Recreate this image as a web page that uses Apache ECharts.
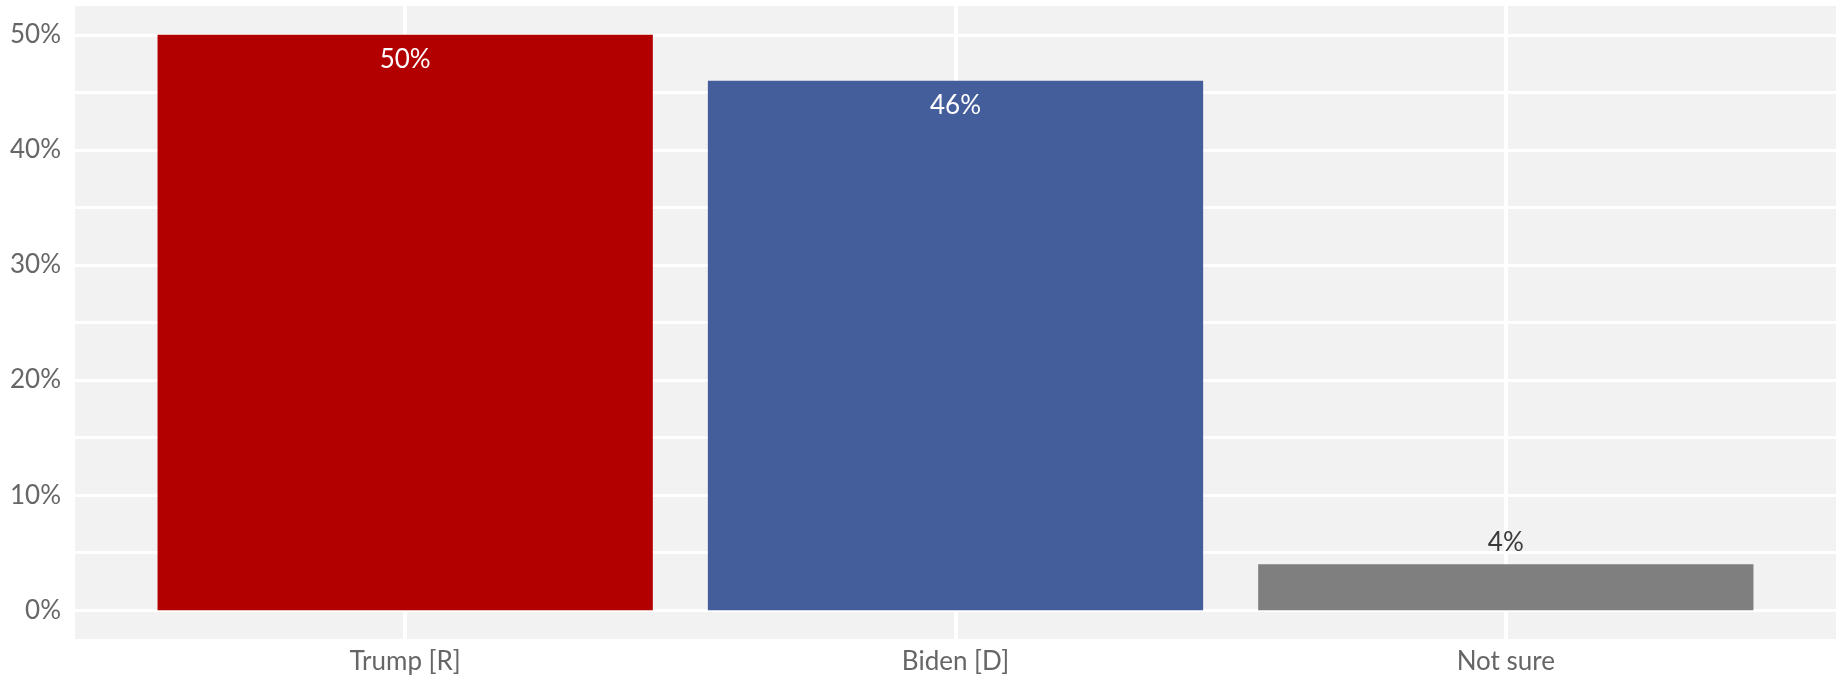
<!DOCTYPE html>
<html>
<head>
<meta charset="utf-8">
<script src="https://cdn.jsdelivr.net/npm/echarts@6/dist/echarts.min.js"></script>
<style>
html,body{margin:0;padding:0;background:#fff;}
#chart{width:1841px;height:680px;}
</style>
</head>
<body>
<div id="chart"></div>
<script>
const categories = ['Trump [R]', 'Biden [D]', 'Not sure'];
const values = [50, 46, 4];
const barColors = ['#b20000', '#445d9b', '#7f7f7f'];
const yTickLabels = [0, 10, 20, 30, 40, 50];

const chart = echarts.init(document.getElementById('chart'));

const data = values.map((v, i) => ({
  value: [i + 1, v],
  itemStyle: { color: barColors[i] },
  label: v > 10
    ? { position: 'insideTop', distance: 12, color: '#ffffff' }
    : { position: 'top', distance: 9, color: '#3a3a3a' }
}));

chart.setOption({
  animation: false,
  textStyle: { fontFamily: 'Lato' },
  grid: {
    left: 75, right: 5, top: 6, bottom: 41,
    show: true, backgroundColor: '#f2f2f2', borderWidth: 0
  },
  xAxis: {
    type: 'value',
    min: 0.4, max: 3.6, interval: 0.2,
    axisLine: { show: false },
    axisTick: { show: false },
    splitLine: {
      show: true,
      lineStyle: { color: ['rgba(0,0,0,0)', 'rgba(0,0,0,0)', 'rgba(0,0,0,0)', '#ffffff', 'rgba(0,0,0,0)'], width: 4 }
    },
    axisLabel: {
      margin: 10,
      fontFamily: 'Lato', fontSize: 26, color: '#666666',
      showMinLabel: false, showMaxLabel: false,
      formatter: function (v) {
        const r = Math.round(v);
        if (Math.abs(v - r) < 1e-6 && r >= 1 && r <= categories.length) return categories[r - 1];
        return '';
      }
    }
  },
  yAxis: {
    type: 'value',
    min: -2.5, max: 52.5, interval: 2.5,
    axisLine: { show: false },
    axisTick: { show: false },
    splitLine: {
      show: true,
      lineStyle: { color: ['rgba(0,0,0,0)', '#ffffff'], width: 3 }
    },
    axisLabel: {
      margin: 14,
      fontFamily: 'Lato', fontSize: 26, color: '#666666',
      formatter: function (v) {
        const r = Math.round(v);
        if (Math.abs(v - r) < 1e-6 && yTickLabels.indexOf(r) >= 0) return r + '%';
        return '';
      }
    }
  },
  series: [{
    type: 'bar',
    barWidth: '90%',
    data: data,
    label: {
      show: true,
      fontFamily: 'Lato', fontSize: 26,
      formatter: function (p) { return p.value[1] + '%'; }
    }
  }]
});
</script>
</body>
</html>
